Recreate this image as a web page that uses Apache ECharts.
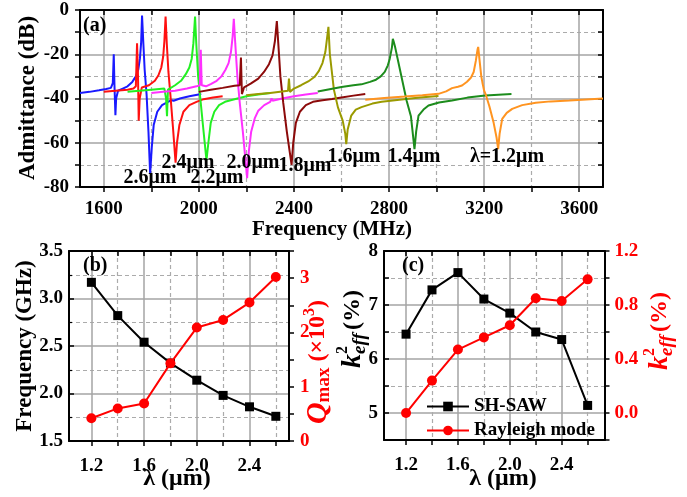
<!DOCTYPE html>
<html><head><meta charset="utf-8">
<script src="https://cdn.jsdelivr.net/npm/echarts@6/dist/echarts.min.js"></script>
<style>html,body{margin:0;padding:0;background:#fff}#c{width:687px;height:497px}</style>
</head><body><div id="c"></div>
<script>
const FONT = "'Times New Roman','Liberation Serif',serif";

// ---------- (a) admittance curves: [frequency MHz, dB] ----------
const a26 = [[1500,-37.5],[1540,-37],[1580,-36.3],[1610,-35.7],[1630,-35.2],[1638,-33],[1642,-20],[1645,-34],[1649,-47.5],[1652,-40],[1660,-36.5],[1680,-35.5],[1700,-34.5],[1720,-32.5],[1735,-30],[1745,-27],[1752,-22],[1757,-15],[1761,-2.5],[1766,-14],[1772,-27],[1780,-38],[1788,-55],[1795,-74],[1802,-62],[1810,-52],[1825,-46],[1845,-43],[1870,-41.5],[1885,-40.8],[1890,-40],[1894,-41],[1920,-40],[1960,-39],[2010,-38]];
const a24 = [[1600,-37],[1650,-36.5],[1700,-36],[1725,-35.5],[1735,-34.5],[1740,-15],[1744,-30],[1747,-50],[1751,-40],[1760,-35],[1790,-34],[1815,-32],[1830,-29.5],[1842,-26],[1850,-21],[1855,-14],[1860,-3],[1865,-15],[1872,-28],[1880,-38],[1891,-53],[1902,-69],[1908,-60],[1918,-52],[1935,-46],[1960,-43],[1990,-41.5],[2020,-40.3],[2060,-39.5],[2100,-39]];
const a22 = [[1700,-37],[1750,-36.5],[1800,-36],[1855,-35.5],[1862,-40],[1866,-48],[1870,-36],[1900,-34],[1925,-32],[1945,-29],[1960,-26],[1970,-22],[1977,-15],[1984,-3],[1989,-15],[1997,-30],[2007,-41],[2018,-53],[2032,-68],[2040,-60],[2050,-51],[2065,-46],[2085,-43],[2110,-41.5],[2150,-40.3],[2200,-39],[2250,-38.2],[2300,-37.5]];
const a20 = [[1800,-37.5],[1850,-37],[1900,-36.5],[1950,-35.5],[1990,-34.5],[2004,-34],[2008,-18],[2012,-34],[2030,-34.5],[2050,-33.5],[2075,-32],[2095,-30],[2112,-27],[2125,-24],[2135,-19],[2142,-12],[2147,-4],[2153,-15],[2162,-30],[2172,-42],[2185,-55],[2203,-76],[2210,-64],[2220,-55],[2235,-49],[2250,-45.5],[2275,-43],[2300,-41.5],[2306,-40],[2310,-41],[2350,-40],[2400,-39],[2450,-38.2],[2500,-37.5]];
const a18 = [[2000,-37],[2050,-36],[2100,-35.2],[2150,-34.2],[2172,-34],[2177,-21.5],[2181,-38],[2190,-35],[2218,-33.3],[2250,-31],[2274,-28],[2295,-24.5],[2310,-20.5],[2320,-14],[2328,-5],[2334,-15],[2343,-30],[2355,-42],[2370,-55],[2390,-70],[2397,-60],[2408,-51],[2425,-46],[2450,-43],[2480,-41.5],[2520,-40.8],[2560,-40.2],[2600,-39.5],[2650,-38.7],[2700,-38]];
const a16 = [[2200,-38.5],[2250,-38],[2300,-37.5],[2350,-36.8],[2375,-36.5],[2379,-31],[2383,-37],[2400,-35.5],[2430,-34],[2460,-32.3],[2486,-30.3],[2505,-27.5],[2520,-24],[2532,-19],[2540,-12],[2545,-7.6],[2551,-20],[2568,-36],[2585,-44],[2605,-50],[2616,-56],[2620,-60.6],[2626,-54],[2641,-47.7],[2660,-45],[2684,-43.9],[2730,-42.3],[2769,-41.5],[2853,-40.5],[2930,-39.6],[3008,-38.9]];
const a14 = [[2500,-36.8],[2550,-35.8],[2600,-34.8],[2650,-34],[2684,-33.6],[2720,-32.5],[2745,-31.5],[2765,-30],[2782,-28],[2795,-25],[2803,-22],[2812,-17],[2816,-13],[2820,-14.5],[2826,-17],[2846,-27],[2874,-41],[2892,-48],[2907,-62.9],[2914,-55],[2924,-47.7],[2945,-45],[2966,-43.2],[3010,-41.8],[3065,-40.9],[3130,-39.6],[3205,-38.6],[3260,-38.3],[3315,-38]];
const a12 = [[2700,-40.6],[2780,-39.8],[2867,-39.1],[2940,-38.5],[3008,-37.9],[3040,-36.8],[3065,-35.3],[3090,-34.7],[3107,-34.1],[3128,-32.4],[3145,-30.5],[3156,-28],[3165,-23],[3172,-18],[3175,-16.7],[3180,-22],[3188,-30],[3194,-33.5],[3200,-36.5],[3206,-38],[3222,-43.5],[3240,-51],[3252,-57.5],[3259,-62.9],[3265,-56],[3276,-49.2],[3295,-46.5],[3318,-44.7],[3360,-43],[3417,-41.9],[3480,-41.3],[3559,-40.9],[3630,-40.4],[3700,-40]];
const aNames = ['2.6μm','2.4μm','2.2μm','2.0μm','1.8μm','1.6μm','1.4μm','λ=1.2μm'];
const aColors = ['#1a1aff','#ff1010','#22f022','#ff30ff','#8c0a0a','#9a9a00','#1c8c1c','#ff9420'];
const aXTicks = [1600,1800,2000,2200,2400,2600,2800,3000,3200,3400,3600];
const aXLabels = [1600,2000,2400,2800,3200,3600];
const aXMinor = [1800,2200,2600,3000,3400];

// ---------- (b) and (c) ----------
const lambda = [1.2,1.4,1.6,1.8,2.0,2.2,2.4,2.6];
const freqGHz = [3.17,2.82,2.54,2.32,2.14,1.98,1.86,1.76];
const qmax = [0.42,0.60,0.69,1.43,2.09,2.23,2.55,3.02];
const k2SH = [6.46,7.28,7.60,7.11,6.85,6.50,6.36,5.14];
const k2R = [0.00,0.24,0.47,0.56,0.65,0.85,0.83,0.99];
const lTicks = [1.2,1.4,1.6,1.8,2.0,2.2,2.4,2.6];
const lLabels = [1.2,1.6,2.0,2.4];
const lMinor = [1.4,1.8,2.2,2.6];
const cYMajor = [5,6,7];
const cYMinor = [5.5,6.5,7.5];

const chart = echarts.init(document.getElementById('c'), null, {renderer:'canvas'});

const AL = {show:true, onZero:false, lineStyle:{color:'#000', width:2}};
const TK = (inside, cv) => { const t = {show:true, inside:inside, length:5, lineStyle:{color:'#000', width:1.5}}; if (cv) t.customValues = cv; return t; };
const LB = (extra) => Object.assign({fontSize:19, fontWeight:'bold', fontFamily:FONT, color:'#000'}, extra||{});
const NOSPLIT = {show:false};
const SOLID = {show:true, lineStyle:{color:'#a4a4a4', width:1.5, type:'solid', opacity:1}};
const DASH = {show:true, lineStyle:{color:'#ababab', width:1.2, type:[4,3], opacity:1}};
const isInt = v => Math.abs(v - Math.round(v)) < 1e-6;

function gx(grid, min, max, vals, split) {
  return {type:'value', gridIndex:grid, min:min, max:max, axisLine:{show:false},
    axisTick:{show:false, customValues:vals}, axisLabel:{show:false, customValues:vals}, splitLine:split};
}
function gy(grid, min, max, vals, split) {
  return {type:'value', gridIndex:grid, min:min, max:max, axisLine:{show:false},
    axisTick:{show:false, customValues:vals}, axisLabel:{show:false, customValues:vals}, splitLine:split};
}

const series = [];
[a26,a24,a22,a20,a18,a16,a14,a12].forEach((d, i) => {
  series.push({name:aNames[i], type:'line', xAxisIndex:0, yAxisIndex:0, data:d, showSymbol:false, symbol:'none',
    lineStyle:{width:2, color:aColors[i]}, itemStyle:{color:aColors[i]}, z:3});
});
series.push({name:'Frequency', type:'line', xAxisIndex:2, yAxisIndex:2, data:lambda.map((l,i)=>[l,freqGHz[i]]),
  symbol:'rect', symbolSize:9, lineStyle:{width:2,color:'#000'}, itemStyle:{color:'#000'}, z:3});
series.push({name:'Qmax', type:'line', xAxisIndex:2, yAxisIndex:3, data:lambda.map((l,i)=>[l,qmax[i]]),
  symbol:'circle', symbolSize:10, lineStyle:{width:2,color:'#ff0000'}, itemStyle:{color:'#ff0000'}, z:4});
series.push({name:'SH-SAW', type:'line', xAxisIndex:4, yAxisIndex:4, data:lambda.map((l,i)=>[l,k2SH[i]]),
  symbol:'rect', symbolSize:9, lineStyle:{width:2,color:'#000'}, itemStyle:{color:'#000'}, z:3});
series.push({name:'Rayleigh mode', type:'line', xAxisIndex:4, yAxisIndex:5, data:lambda.map((l,i)=>[l,k2R[i]]),
  symbol:'circle', symbolSize:10, lineStyle:{width:2,color:'#ff0000'}, itemStyle:{color:'#ff0000'}, z:4});

function T(x, y, text, size, opts) {
  return Object.assign({type:'text', x:x, y:y, z:50, style:Object.assign({text:text, fontSize:size, fontWeight:'bold', fontFamily:FONT, fill:'#000', align:'center', verticalAlign:'middle'}, (opts&&opts.style)||{})}, (opts&&opts.el)||{});
}
function kTitle(x, y, color) {
  return {type:'group', x:x, y:y, rotation:Math.PI/2, z:50, children:[
    {type:'text', x:0, y:0, style:{text:'k', fontSize:28, fontStyle:'italic', fontWeight:'bold', fontFamily:FONT, fill:color, align:'left', verticalAlign:'middle'}},
    {type:'text', x:14, y:-10, style:{text:'2', fontSize:16, fontWeight:'bold', fontFamily:FONT, fill:color, align:'left', verticalAlign:'middle'}},
    {type:'text', x:14, y:7, style:{text:'eff', fontSize:19, fontStyle:'italic', fontWeight:'bold', fontFamily:FONT, fill:color, align:'left', verticalAlign:'middle'}},
    {type:'text', x:38, y:0, style:{text:'(%)', fontSize:24, fontWeight:'bold', fontFamily:FONT, fill:color, align:'left', verticalAlign:'middle'}}
  ]};
}

const labelPos = [[150,178],[188,163],[217,178],[253,163],[305,166],[354,157],[414,157],[507,157]];
const graphics = [
  T(83, 26, '(a)', 20, {style:{align:'left'}}),
  T(83, 266, '(b)', 20, {style:{align:'left'}}),
  T(402, 266, '(c)', 20, {style:{align:'left'}}),
  T(332, 230, 'Frequency (MHz)', 21),
  T(28, 98, 'Admittance (dB)', 23, {el:{rotation:Math.PI/2}}),
  T(25, 346, 'Frequency (GHz)', 23, {el:{rotation:Math.PI/2}}),
  T(177, 479, 'λ (μm)', 24),
  T(503, 479, 'λ (μm)', 24),
  {type:'text', x:318, y:362, rotation:Math.PI/2, z:50, style:{
    text:'{q|Q}{s|max}{n| (×10}{p|3}{n|)}', align:'center', verticalAlign:'middle',
    rich:{
      q:{fontSize:30, fontStyle:'italic', fontWeight:'bold', fontFamily:FONT, fill:'#ff0000', lineHeight:32, verticalAlign:'middle'},
      s:{fontSize:19, fontWeight:'bold', fontFamily:FONT, fill:'#ff0000', lineHeight:16, verticalAlign:'bottom'},
      n:{fontSize:24, fontWeight:'bold', fontFamily:FONT, fill:'#ff0000', lineHeight:32, verticalAlign:'middle'},
      p:{fontSize:16, fontWeight:'bold', fontFamily:FONT, fill:'#ff0000', lineHeight:16, verticalAlign:'top'}
    }}},
  kTitle(353, 368, '#000'),
  kTitle(660, 370, '#ff0000')
];
aNames.forEach((n, i) => graphics.push(T(labelPos[i][0], labelPos[i][1], n, 20)));

chart.setOption({
  animation:false,
  backgroundColor:'#fff',
  textStyle:{fontFamily:FONT},
  grid:[
    {left:80, top:10, width:523, height:177},
    {left:69, top:251, width:220, height:190},
    {left:384, top:251, width:220.5, height:189}
  ],
  legend:{data:['SH-SAW','Rayleigh mode'], orient:'vertical', left:421, top:392, itemWidth:42, itemHeight:12, itemGap:5,
    textStyle:{fontSize:19, fontWeight:'bold', fontFamily:FONT, color:'#000'}, selectedMode:false},
  xAxis:[
    {type:'value', gridIndex:0, min:1500, max:3700, axisLine:AL, axisTick:TK(false, aXTicks),
      axisLabel:LB({customValues:aXLabels, margin:13, formatter:v=>String(v)}), splitLine:NOSPLIT},
    {type:'value', gridIndex:0, position:'top', min:1500, max:3700, axisLine:AL, axisTick:TK(true, aXTicks),
      axisLabel:{show:false}, splitLine:NOSPLIT},
    {type:'value', gridIndex:1, min:1.03, max:2.70, axisLine:AL, axisTick:TK(false, lTicks),
      axisLabel:LB({customValues:lLabels, margin:16, formatter:v=>v.toFixed(1)}), splitLine:NOSPLIT},
    {type:'value', gridIndex:1, position:'top', min:1.03, max:2.70, axisLine:AL, axisTick:TK(true, lTicks),
      axisLabel:{show:false}, splitLine:NOSPLIT},
    {type:'value', gridIndex:2, min:1.03, max:2.73, axisLine:AL, axisTick:TK(false, lTicks),
      axisLabel:LB({customValues:lLabels, margin:16, formatter:v=>v.toFixed(1)}), splitLine:NOSPLIT},
    {type:'value', gridIndex:2, position:'top', min:1.03, max:2.73, axisLine:AL, axisTick:TK(true, lTicks),
      axisLabel:{show:false}, splitLine:NOSPLIT},
    gx(0, 1500, 3700, aXLabels, SOLID),
    gx(0, 1500, 3700, aXMinor, DASH),
    gx(1, 1.03, 2.70, lLabels, SOLID),
    gx(1, 1.03, 2.70, lMinor, DASH),
    gx(2, 1.03, 2.73, lLabels, SOLID),
    gx(2, 1.03, 2.73, lMinor, DASH)
  ],
  yAxis:[
    {type:'value', gridIndex:0, min:-80, max:0, interval:20, axisLine:AL, axisTick:TK(false),
      minorTick:{show:true, splitNumber:2, length:5, lineStyle:{color:'#000', width:1.5}},
      axisLabel:LB({margin:11, formatter:v=>String(v)}), splitLine:SOLID, minorSplitLine:DASH},
    {type:'value', gridIndex:0, position:'right', min:-80, max:0, interval:20, axisLine:AL, axisTick:TK(true),
      minorTick:{show:true, splitNumber:2, length:5, lineStyle:{color:'#000', width:1.5}},
      axisLabel:{show:false}, splitLine:NOSPLIT},
    {type:'value', gridIndex:1, min:1.5, max:3.5, interval:0.5, axisLine:AL, axisTick:TK(true),
      minorTick:{show:true, splitNumber:2, length:3, lineStyle:{color:'#000', width:1.2}},
      axisLabel:LB({margin:6, formatter:v=>v.toFixed(1)}), splitLine:SOLID, minorSplitLine:DASH},
    {type:'value', gridIndex:1, position:'right', min:0, max:3.5, interval:0.5, axisLine:AL, axisTick:TK(false),
      axisLabel:LB({margin:11, color:'#ff0000', formatter:v=>isInt(v)?String(Math.round(v)):''}), splitLine:NOSPLIT},
    {type:'value', gridIndex:2, min:4.5, max:8, interval:0.5, axisLine:AL, axisTick:TK(true),
      axisLabel:LB({margin:6, formatter:v=>isInt(v)?String(Math.round(v)):''}), splitLine:NOSPLIT},
    {type:'value', gridIndex:2, position:'right', min:-0.2, max:1.2, interval:0.2, axisLine:AL, axisTick:TK(false),
      axisLabel:LB({margin:10, color:'#ff0000', formatter:v=>(v>-1e-6 && isInt(v/0.4))?v.toFixed(1):''}), splitLine:NOSPLIT},
    gy(2, 4.5, 8, cYMajor, SOLID),
    gy(2, 4.5, 8, cYMinor, DASH)
  ],
  series:series,
  graphic:graphics
});
</script></body></html>
